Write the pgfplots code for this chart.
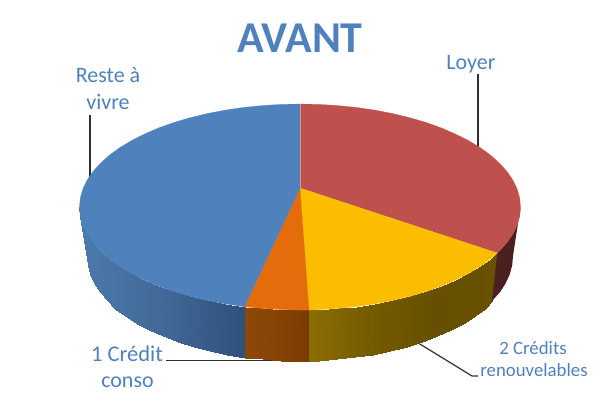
\documentclass[border=0pt]{standalone}
\usepackage{fontspec}
\setmainfont{Carlito}
\usepackage{pgfplots}
\pgfplotsset{compat=1.18}
\definecolor{pieblue}{HTML}{4F81BD}
\definecolor{piered}{HTML}{BE504D}
\definecolor{pieyellow}{HTML}{FBBD00}
\definecolor{pieorange}{HTML}{E46C0A}
\definecolor{labelblue}{HTML}{4F81BD}
\definecolor{leader}{HTML}{303030}
\newcommand{\fs}[1]{\fontsize{#1}{#1}\selectfont}
\tikzset{lab/.style={anchor=base,text=labelblue,inner sep=0pt}}
\begin{document}
\begin{tikzpicture}
\begin{axis}[
  scale only axis,
  width=600pt,height=400pt,
  xmin=0,xmax=600,ymin=0,ymax=400,
  y dir=reverse,
  hide axis,
  clip=false,
  point meta rel=per plot,
]
% white page, keeps the picture at 600x400
\addplot[fill=white,draw=none] coordinates {(0,0) (600,0) (600,400) (0,400)} -- cycle;

% leader lines (pixel coordinates)
\addplot[leader,line width=1.2pt] coordinates {(478,74) (478,150)};
\addplot[leader,line width=1.2pt] coordinates {(90,115) (90,182)};
\addplot[leader,line width=1.2pt] coordinates {(166,360.5) (280,360.5)};
\addplot[leader,line width=1.2pt] coordinates {(415,341) (472,376) (478,376)};

% side walls: top edge then bottom edge
\addplot[surf,shader=interp,mesh/rows=2,point meta=x,
  colormap={sblue}{rgb255=(76,122,172) rgb255=(65,105,152) rgb255=(47,80,122)}] table {
79.5 207
80.3 216
82.8 224.9
87 233.7
92.8 242.2
100.2 250.5
109 258.5
119.4 266.1
131.1 273.2
144.1 279.8
158.2 285.9
173.5 291.4
189.7 296.2
206.8 300.3
224.6 303.8
244.5 306.7
87 256
87.8 265.2
90.2 274.2
94.3 283.2
99.8 291.9
107 300.4
115.5 308.5
125.5 316.2
136.8 323.5
149.4 330.2
163.1 336.4
177.8 342
193.5 346.9
210 351.2
227.2 354.7
245 358
};
\addplot[surf,shader=interp,mesh/rows=2,point meta=x,
  colormap={sorange}{rgb255=(140,72,8) rgb255=(135,68,6) rgb255=(122,58,4)}] table {
244.5 306.7
261.7 308.4
280.8 309.6
300 310
309 310
245 358
263 359.4
281.4 360.6
300 361
309 361
};
\addplot[surf,shader=interp,mesh/rows=2,point meta=x,
  colormap={syellow}{rgb255=(140,110,5) rgb255=(116,90,0) rgb255=(102,80,0) rgb255=(104,82,0)}] table {
309 310
319.2 309.6
338.3 308.4
357.1 306.5
375.4 303.8
393.2 300.3
410.3 296.2
426.5 291.4
441.8 285.9
455.9 279.8
468.9 273.2
480.6 266.1
491 258.5
497.3 253
309 361
318.6 360.6
337 359.4
355.1 357.4
372.8 354.7
390 351.2
406.5 346.9
422.2 342
436.9 336.4
450.6 330.2
463.2 323.5
474.5 316.2
484.5 308.5
492 301
};
\addplot[draw=none,fill=piered!40!black] coordinates {
(497.3,253) (499.8,250.5) (507.2,242.2) (513,233.7) (517.2,224.9) (519.7,216) (520.5,207)
(513,256) (512.2,265.2) (509.8,274.2) (505.7,283.2) (500.2,291.9) (492,301)
} -- cycle;

% top faces
\addplot[fill=piered,draw=piered,line width=0.2pt] coordinates {
(300,188) (300,104) (319.2,104.4) (338.3,105.6) (357.1,107.5) (375.4,110.2) (393.2,113.7)
(410.3,117.8) (426.5,122.6) (441.8,128.1) (455.9,134.2) (468.9,140.8) (480.6,147.9) (491,155.5)
(499.8,163.5) (507.2,171.8) (513,180.3) (517.2,189.1) (519.7,198) (520.5,207) (519.7,216)
(517.2,224.9) (513,233.7) (507.2,242.2) (499.8,250.5) (497.3,253)
} -- cycle;
\addplot[fill=pieyellow,draw=pieyellow,line width=0.2pt] coordinates {
(300,188) (497.3,253) (491,258.5) (480.6,266.1) (468.9,273.2) (455.9,279.8) (441.8,285.9)
(426.5,291.4) (410.3,296.2) (393.2,300.3) (375.4,303.8) (357.1,306.5) (338.3,308.4) (319.2,309.6) (309,310)
} -- cycle;
\addplot[fill=pieorange,draw=pieorange,line width=0.2pt] coordinates {
(300,188) (309,310) (300,310) (280.8,309.6) (261.7,308.4) (244.5,306.7)
} -- cycle;
\addplot[fill=pieblue,draw=pieblue,line width=0.2pt] coordinates {
(300,188) (244.5,306.7) (224.6,303.8) (206.8,300.3) (189.7,296.2) (173.5,291.4) (158.2,285.9)
(144.1,279.8) (131.1,273.2) (119.4,266.1) (109,258.5) (100.2,250.5) (92.8,242.2) (87,233.7)
(82.8,224.9) (80.3,216) (79.5,207) (80.3,198) (82.8,189.1) (87,180.3) (92.8,171.8) (100.2,163.5)
(109,155.5) (119.4,147.9) (131.1,140.8) (144.1,134.2) (158.2,128.1) (173.5,122.6) (189.7,117.8)
(206.8,113.7) (224.6,110.2) (242.9,107.5) (261.7,105.6) (280.8,104.4) (300,104)
} -- cycle;
% light seam between the first slices
\addplot[color=piered!60!white,line width=0.5pt] coordinates {(300,104) (300,188)};

% labels
\node[lab,font=\bfseries\fs{44}] at (axis cs:300,52) {AVANT};
\node[lab,font=\fs{22}] at (axis cs:471,69) {Loyer};
\node[lab,font=\fs{22}] at (axis cs:108,82) {Reste à};
\node[lab,font=\fs{22}] at (axis cs:108,109) {vivre};
\node[lab,font=\fs{22.5}] at (axis cs:127,361) {1 Crédit};
\node[lab,font=\fs{22}] at (axis cs:127.5,387) {conso};
\node[lab,font=\fs{18.8}] at (axis cs:533,354) {2 Crédits};
\node[lab,font=\fs{18.8}] at (axis cs:534,376) {renouvelables};
\end{axis}
\end{tikzpicture}
\end{document}
